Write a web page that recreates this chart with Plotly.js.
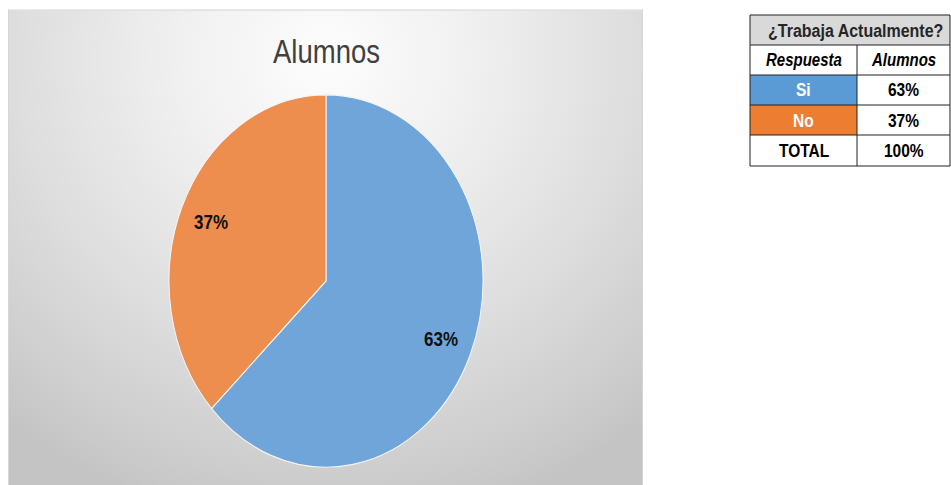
<!DOCTYPE html>
<html>
<head>
<meta charset="utf-8">
<script src="https://cdn.plot.ly/plotly-3.0.1.min.js"></script>
<style>
  html, body { margin: 0; padding: 0; background: #ffffff; overflow: hidden; }
  #stage { position: absolute; left: 0; top: 0; width: 951px; height: 409px; transform-origin: 0 0; }
  #panel { position: absolute; left: 8px; top: 8.4px; width: 635px; height: 401px;
           box-sizing: border-box; border: 1px solid #d6d6d6; border-bottom: none;
           background: radial-gradient(ellipse 78% 100% at 50% 10%, #fdfdfd 0%, #f0f0f0 30%, #dedede 62%, #cccccc 90%, #c4c4c4 100%); }
  #chart { position: absolute; left: 0; top: 0; width: 951px; height: 409px; }
</style>
</head>
<body>
<div id="stage">
  <div id="panel"></div>
  <div id="chart"></div>
</div>
<script>
// ---- data ----
const chartTitle = 'Alumnos';
const categories = ['Si', 'No'];
const values = [63, 37];
const tableTitle = '¿Trabaja Actualmente?';
const tableHeaders = ['Respuesta', 'Alumnos'];
const tableLabels = ['Si', 'No', 'TOTAL'];
const tableValues = ['63%', '37%', '100%'];

// ---- geometry (final screen px) ----
const W = 951, SCREEN_H = 485, H = 409;
const S = SCREEN_H / H;
document.getElementById('stage').style.transform = 'scaleY(' + S + ')';
const px = x => x / W;
const py = y => 1 - y / SCREEN_H;

const sliceColors = ['#6fa5d8', '#ed8d4e'];
const rowFill = ['#5b9bd5', '#ed7d31', '#ffffff'];
const rowText = ['#ffffff', '#ffffff', '#000000'];

const cx = 326, cyScreen = 281, R = 157; // R in unscaled px
const domX = [px(cx - R), px(cx + R)];
const cyP = py(cyScreen);
const domY = [cyP - R / H, cyP + R / H];

const total = values.reduce((a, b) => a + b, 0);
const annotations = [];
const shapes = [];

// title
annotations.push({ text: chartTitle, x: px(cx), y: py(51), xref: 'paper', yref: 'paper',
  showarrow: false, xanchor: 'center', yanchor: 'middle',
  font: { family: 'Liberation Sans, Arial, sans-serif', size: 27.5, color: '#404040' } });

// slice labels placed at mid-angle, 0.8 radius
let cum = 0;
values.forEach((v, i) => {
  const mid = (cum + v / 2) / total;
  cum += v;
  const th = mid * 2 * Math.PI;
  const dx = Math.sin(th) * 0.8 * R;
  const dy = Math.cos(th) * 0.8 * R;
  annotations.push({ text: Math.round(v / total * 100) + '%', xref: 'paper', yref: 'paper',
    x: px(cx + dx), y: cyP + dy / H, showarrow: false, xanchor: 'center', yanchor: 'middle',
    font: { family: 'Liberation Sans, Arial, sans-serif', size: 17, color: '#111111', weight: 'bold' } });
});

// table
const tL = 750, tM = 857, tR = 950;
const rowsY = [15, 45, 75, 105, 135, 166];
const tf = 'Liberation Sans, Arial, sans-serif';
shapes.push({ type: 'rect', xref: 'paper', yref: 'paper', x0: px(tL), x1: px(tR), y0: py(rowsY[1]), y1: py(rowsY[0]),
  fillcolor: '#d9d9d9', line: { width: 0 }, layer: 'below' });
tableLabels.forEach((lab, i) => {
  shapes.push({ type: 'rect', xref: 'paper', yref: 'paper', x0: px(tL), x1: px(tM), y0: py(rowsY[i + 3]), y1: py(rowsY[i + 2]),
    fillcolor: rowFill[i], line: { width: 0 }, layer: 'below' });
});
// borders
rowsY.forEach(y => shapes.push({ type: 'line', xref: 'paper', yref: 'paper', x0: px(tL), x1: px(tR), y0: py(y), y1: py(y), line: { color: '#222222', width: 1 } }));
shapes.push({ type: 'line', xref: 'paper', yref: 'paper', x0: px(tL), x1: px(tL), y0: py(rowsY[0]), y1: py(rowsY[5]), line: { color: '#222222', width: 1 } });
shapes.push({ type: 'line', xref: 'paper', yref: 'paper', x0: px(tR), x1: px(tR), y0: py(rowsY[0]), y1: py(rowsY[5]), line: { color: '#222222', width: 1 } });
shapes.push({ type: 'line', xref: 'paper', yref: 'paper', x0: px(tM), x1: px(tM), y0: py(rowsY[1]), y1: py(rowsY[5]), line: { color: '#222222', width: 1 } });

const rowMid = i => (rowsY[i] + rowsY[i + 1]) / 2;
const cellAnn = (text, x, y, font) => annotations.push({ text, x, y, xref: 'paper', yref: 'paper', showarrow: false,
  xanchor: 'center', yanchor: 'middle', font });
cellAnn(tableTitle, px((tL + tR) / 2 + 5), py(rowMid(0)), { family: tf, size: 16, color: '#262626', weight: 'bold' });
cellAnn(tableHeaders[0], px((tL + tM) / 2), py(rowMid(1)), { family: tf, size: 15, color: '#000000', weight: 'bold', style: 'italic' });
cellAnn(tableHeaders[1], px((tM + tR) / 2), py(rowMid(1)), { family: tf, size: 15, color: '#000000', weight: 'bold', style: 'italic' });
tableLabels.forEach((lab, i) => {
  cellAnn(lab, px((tL + tM) / 2), py(rowMid(i + 2)), { family: tf, size: 15.5, color: rowText[i], weight: 'bold' });
  cellAnn(tableValues[i], px((tM + tR) / 2), py(rowMid(i + 2)), { family: tf, size: 15.5, color: '#000000', weight: 'bold' });
});

const trace = {
  type: 'pie', labels: categories, values: values, sort: false, direction: 'clockwise', rotation: 0,
  marker: { colors: sliceColors, line: { color: '#f4f4f4', width: 1 } },
  textinfo: 'none', hoverinfo: 'label+percent', showlegend: false,
  domain: { x: domX, y: domY }
};

Plotly.newPlot('chart', [trace], {
  width: W, height: H, margin: { l: 0, r: 0, t: 0, b: 0 },
  paper_bgcolor: 'rgba(0,0,0,0)', plot_bgcolor: 'rgba(0,0,0,0)',
  showlegend: false, annotations: annotations, shapes: shapes
}, { displayModeBar: false, staticPlot: true });
</script>
</body>
</html>
